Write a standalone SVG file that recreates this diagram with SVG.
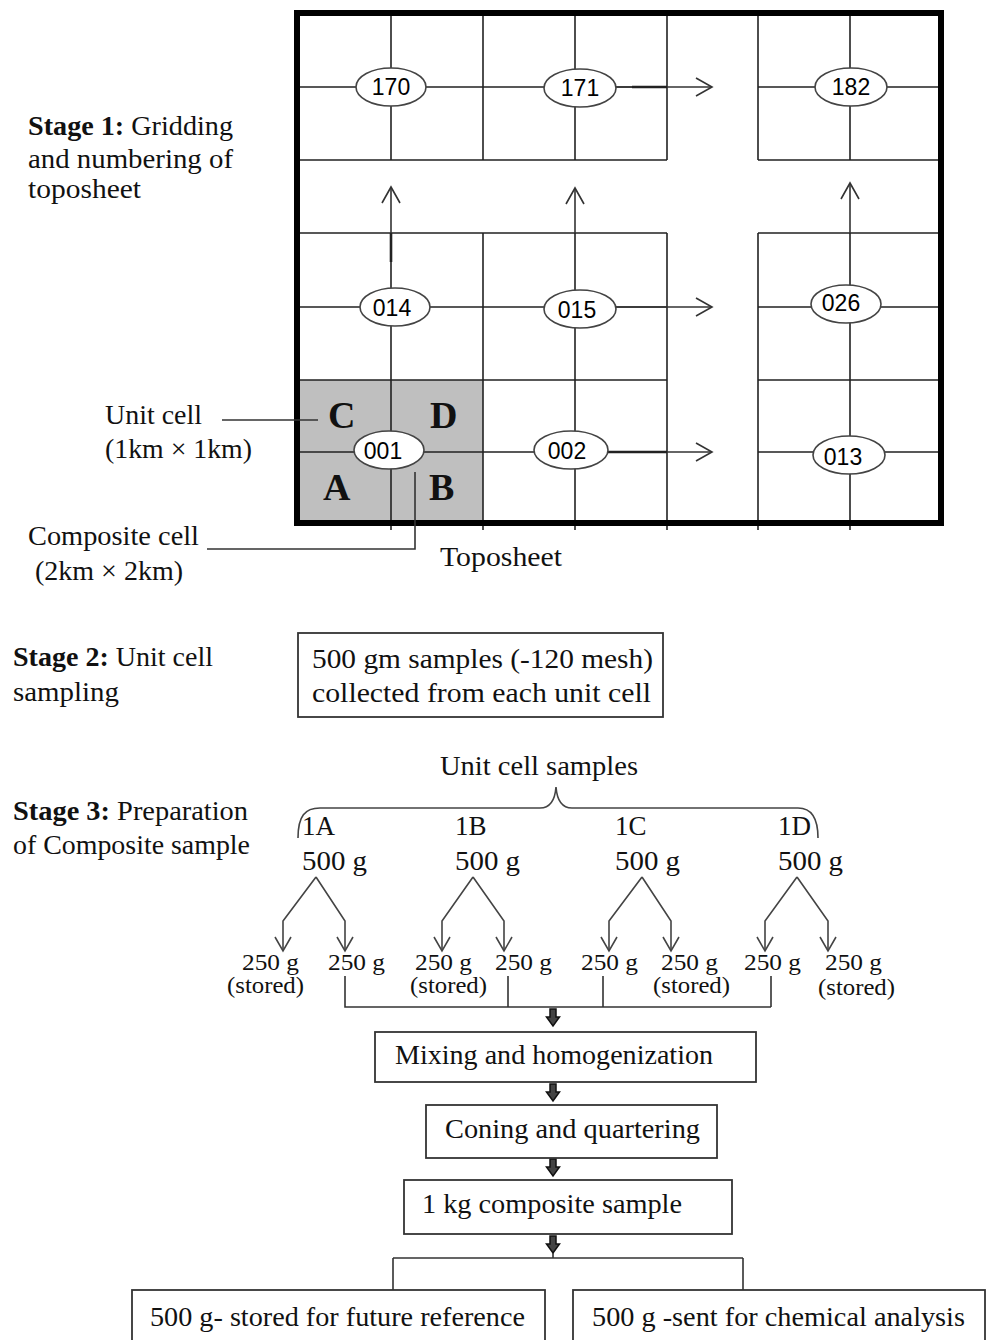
<svg xmlns="http://www.w3.org/2000/svg" width="986" height="1340" viewBox="0 0 986 1340">
<style>
.t{font-family:"Liberation Serif","Times New Roman",serif;font-size:27px;fill:#111}
.s{font-family:"Liberation Serif","Times New Roman",serif;font-size:24px;fill:#111}
.b{font-weight:bold}
.L{font-family:"Liberation Serif","Times New Roman",serif;font-size:38px;font-weight:bold;fill:#111}
.n{font-family:"Liberation Sans",Arial,sans-serif;font-size:23px;fill:#000;text-anchor:middle}
.gl{stroke:#222;stroke-width:1.6;fill:none}
.el{fill:#fff;stroke:#444;stroke-width:1.6}
.box{fill:#fff;stroke:#333;stroke-width:1.8}
.c{stroke:#333;stroke-width:1.6;fill:none}
.c3{stroke:#444;stroke-width:1.6;fill:none}
.blk{fill:#444;stroke:#111;stroke-width:1.5}
</style>
<defs>
<marker id="chev" viewBox="-1 -1 18 20" refX="16" refY="9" markerWidth="18" markerHeight="20" markerUnits="userSpaceOnUse" orient="auto" overflow="visible"><path d="M0,0 L16,9 L0,18" fill="none" stroke="#333" stroke-width="1.6"/></marker>
<marker id="vh" viewBox="-1 -1 16 18" refX="14" refY="8" markerWidth="16" markerHeight="18" markerUnits="userSpaceOnUse" orient="auto" overflow="visible"><path d="M0,0 L14,8 L0,16" fill="none" stroke="#444" stroke-width="1.6"/></marker>
<path id="da" d="M-3,0 V8 H-6.5 L0,17 L6.5,8 H3 V0 Z"/>
</defs>

<g id="toposheet">
<rect x="297" y="380" width="186" height="143" fill="#bfbfbf"/>
<g class="gl">
<path d="M297,87H667M297,160H667M758,87H941M758,160H941"/>
<path d="M391,13V160M483,13V160M575,13V160M667,13V160M758,13V160M850,13V160"/>
<path d="M297,233H667M297,307H667M297,380H667M297,452H667M758,233H943M758,307H943M758,380H943M758,452H943"/>
<path d="M391,233V530M483,233V530M575,233V530M667,233V530M758,233V530M850,233V530"/>
</g>
<rect x="297" y="13" width="644" height="510" fill="none" stroke="#000" stroke-width="6"/>
<text class="L" x="328" y="428">C</text>
<text class="L" x="430" y="428">D</text>
<text class="L" x="323" y="500">A</text>
<text class="L" x="429" y="500">B</text>
</g>

<g id="connectors">
<line class="c" x1="616" y1="87" x2="712" y2="87" marker-end="url(#chev)"/>
<line x1="632" y1="87" x2="667" y2="87" stroke="#222" stroke-width="2.6"/>
<line class="c" x1="616" y1="307" x2="712" y2="307" marker-end="url(#chev)"/>
<line class="c" x1="608" y1="452" x2="712" y2="452" marker-end="url(#chev)"/>
<line x1="608" y1="452" x2="667" y2="452" stroke="#222" stroke-width="2.6"/>
<line class="c" x1="391" y1="262" x2="391" y2="187" marker-end="url(#chev)"/>
<line x1="391" y1="233" x2="391" y2="262" stroke="#222" stroke-width="2.6"/>
<line class="c" x1="575" y1="233" x2="575" y2="188" marker-end="url(#chev)"/>
<line class="c" x1="850" y1="233" x2="850" y2="183" marker-end="url(#chev)"/>
<path class="c" d="M222,420H318"/>
<path class="c" d="M415,472V549H207"/>
<path class="c3" d="M298,838C298,816 305,808 320,808H540C550,808 555,800 556,787C557,800 562,808 572,808H798C812,808 818,818 818,838"/>
<g class="c3">
<path d="M316,877L283,921V951" marker-end="url(#vh)"/>
<path d="M316,877L345,921V951" marker-end="url(#vh)"/>
<path d="M473,877L442,921V951" marker-end="url(#vh)"/>
<path d="M473,877L504,921V951" marker-end="url(#vh)"/>
<path d="M642,877L609,921V951" marker-end="url(#vh)"/>
<path d="M642,877L671,921V951" marker-end="url(#vh)"/>
<path d="M797,877L765,921V951" marker-end="url(#vh)"/>
<path d="M797,877L828,921V951" marker-end="url(#vh)"/>
</g>
<path class="c" d="M345,976V1007H771M508,976V1007M603,976V1007M771,976V1007"/>
<use href="#da" class="blk" x="553" y="1009"/>
<use href="#da" class="blk" x="553" y="1084"/>
<use href="#da" class="blk" x="553" y="1159"/>
<use href="#da" class="blk" x="553" y="1236"/>
<path class="c" d="M553,1253V1258M393,1258H743M393,1258V1290M743,1258V1290"/>
</g>

<g id="cell-170"><ellipse class="el" cx="391" cy="87" rx="35" ry="19"/><text class="n" x="391" y="95">170</text></g>
<g id="cell-171"><ellipse class="el" cx="580" cy="88" rx="36" ry="19"/><text class="n" x="580" y="96">171</text></g>
<g id="cell-182"><ellipse class="el" cx="851" cy="87" rx="36" ry="19"/><text class="n" x="851" y="95">182</text></g>
<g id="cell-014"><ellipse class="el" cx="395" cy="307" rx="35" ry="19"/><text class="n" x="392" y="316">014</text></g>
<g id="cell-015"><ellipse class="el" cx="580" cy="309" rx="36" ry="19"/><text class="n" x="577" y="318">015</text></g>
<g id="cell-026"><ellipse class="el" cx="846" cy="304" rx="35" ry="19"/><text class="n" x="841" y="311">026</text></g>
<g id="cell-001"><ellipse class="el" cx="389" cy="450" rx="35" ry="19"/><text class="n" x="383" y="459">001</text></g>
<g id="cell-002"><ellipse class="el" cx="571" cy="450" rx="37" ry="19"/><text class="n" x="567" y="459">002</text></g>
<g id="cell-013"><ellipse class="el" cx="849" cy="455" rx="36" ry="19"/><text class="n" x="843" y="465">013</text></g>

<g id="stage1-label">
<text class="t" x="28" y="135" textLength="205" lengthAdjust="spacingAndGlyphs"><tspan class="b">Stage 1:</tspan> Gridding</text>
<text class="t" x="28" y="168" textLength="205" lengthAdjust="spacingAndGlyphs">and numbering of</text>
<text class="t" x="28" y="198" textLength="113" lengthAdjust="spacingAndGlyphs">toposheet</text>
</g>
<g id="unit-cell-label">
<text class="t" x="105" y="424" textLength="97" lengthAdjust="spacingAndGlyphs">Unit cell</text>
<text class="t" x="105" y="458" textLength="147" lengthAdjust="spacingAndGlyphs">(1km × 1km)</text>
</g>
<g id="composite-cell-label">
<text class="t" x="28" y="545" textLength="171" lengthAdjust="spacingAndGlyphs">Composite cell</text>
<text class="t" x="35" y="580" textLength="148" lengthAdjust="spacingAndGlyphs">(2km × 2km)</text>
</g>
<g id="toposheet-label"><text class="t" x="440" y="566" textLength="122" lengthAdjust="spacingAndGlyphs">Toposheet</text></g>

<g id="stage2-label">
<text class="t" x="13" y="666" textLength="200" lengthAdjust="spacingAndGlyphs"><tspan class="b">Stage 2:</tspan> Unit cell</text>
<text class="t" x="13" y="701" textLength="106" lengthAdjust="spacingAndGlyphs">sampling</text>
</g>
<g id="stage2-box">
<rect class="box" x="298" y="633" width="365" height="84"/>
<text class="t" x="312" y="668" textLength="341" lengthAdjust="spacingAndGlyphs">500 gm samples (-120 mesh)</text>
<text class="t" x="312" y="702" textLength="339" lengthAdjust="spacingAndGlyphs">collected from each unit cell</text>
</g>

<g id="stage3-label">
<text class="t" x="13" y="820" textLength="235" lengthAdjust="spacingAndGlyphs"><tspan class="b">Stage 3:</tspan> Preparation</text>
<text class="t" x="13" y="854" textLength="237" lengthAdjust="spacingAndGlyphs">of Composite sample</text>
</g>
<g id="unit-cell-samples"><text class="t" x="440" y="775" textLength="198" lengthAdjust="spacingAndGlyphs">Unit cell samples</text></g>
<g id="sample-1A"><text class="t" x="302" y="835">1A</text><text class="t" x="302" y="870" textLength="65" lengthAdjust="spacingAndGlyphs">500 g</text></g>
<g id="sample-1B"><text class="t" x="455" y="835">1B</text><text class="t" x="455" y="870" textLength="65" lengthAdjust="spacingAndGlyphs">500 g</text></g>
<g id="sample-1C"><text class="t" x="615" y="835">1C</text><text class="t" x="615" y="870" textLength="65" lengthAdjust="spacingAndGlyphs">500 g</text></g>
<g id="sample-1D"><text class="t" x="778" y="835">1D</text><text class="t" x="778" y="870" textLength="65" lengthAdjust="spacingAndGlyphs">500 g</text></g>

<g id="splits">
<text class="s" x="242" y="970" textLength="57" lengthAdjust="spacingAndGlyphs">250 g</text><text class="s" x="227" y="993" textLength="77" lengthAdjust="spacingAndGlyphs">(stored)</text>
<text class="s" x="328" y="970" textLength="57" lengthAdjust="spacingAndGlyphs">250 g</text>
<text class="s" x="415" y="970" textLength="57" lengthAdjust="spacingAndGlyphs">250 g</text><text class="s" x="410" y="993" textLength="77" lengthAdjust="spacingAndGlyphs">(stored)</text>
<text class="s" x="495" y="970" textLength="57" lengthAdjust="spacingAndGlyphs">250 g</text>
<text class="s" x="581" y="970" textLength="57" lengthAdjust="spacingAndGlyphs">250 g</text>
<text class="s" x="661" y="970" textLength="57" lengthAdjust="spacingAndGlyphs">250 g</text><text class="s" x="653" y="993" textLength="77" lengthAdjust="spacingAndGlyphs">(stored)</text>
<text class="s" x="744" y="970" textLength="57" lengthAdjust="spacingAndGlyphs">250 g</text>
<text class="s" x="825" y="970" textLength="57" lengthAdjust="spacingAndGlyphs">250 g</text><text class="s" x="818" y="995" textLength="77" lengthAdjust="spacingAndGlyphs">(stored)</text>
</g>

<g id="mixing"><rect class="box" x="375" y="1032" width="381" height="50"/><text class="t" x="395" y="1064" textLength="318" lengthAdjust="spacingAndGlyphs">Mixing and homogenization</text></g>
<g id="coning"><rect class="box" x="426" y="1105" width="291" height="53"/><text class="t" x="445" y="1138" textLength="255" lengthAdjust="spacingAndGlyphs">Coning and quartering</text></g>
<g id="composite"><rect class="box" x="404" y="1180" width="328" height="54"/><text class="t" x="422" y="1213" textLength="260" lengthAdjust="spacingAndGlyphs">1 kg composite sample</text></g>
<g id="stored"><rect class="box" x="132" y="1290" width="413" height="70"/><text class="t" x="150" y="1326" textLength="375" lengthAdjust="spacingAndGlyphs">500 g- stored for future reference</text></g>
<g id="analysis"><rect class="box" x="573" y="1290" width="412" height="70"/><text class="t" x="592" y="1326" textLength="373" lengthAdjust="spacingAndGlyphs">500 g -sent for chemical analysis</text></g>
</svg>
